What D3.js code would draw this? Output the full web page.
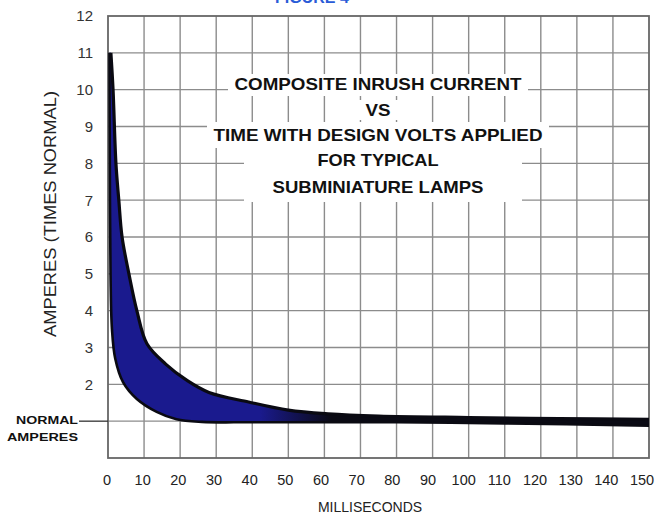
<!DOCTYPE html>
<html><head><meta charset="utf-8">
<script src="https://cdn.jsdelivr.net/npm/d3@7"></script>
<style>
html,body{margin:0;padding:0;background:#fff;}
svg{display:block;font-family:"Liberation Sans",Arial,Helvetica,sans-serif;}
</style></head>
<body>
<svg id="chart" width="660" height="514"></svg>
<script>
// ---- data ----
const xTicks = [0,10,20,30,40,50,60,70,80,90,100,110,120,130,140,150];
const yTicks = [2,3,4,5,6,7,8,9,10,11,12];
const yGrid = [1,2,3,4,5,6,7,8,9,10,11];
// upper (outer) edge of the composite band: [ms, times normal]
const outerEdge = [[0.8,11],[1.4,10],[2.2,8],[3.0,7],[3.9,6],[5.8,5],[8.0,4],[10.8,3.1],[16,2.55],[22,2.1],[28,1.78],[39,1.52],[50,1.3],[61,1.2],[75,1.14],[100,1.1],[125,1.07],[150,1.05]];
// lower (inner) edge of the band
const innerEdge = [[0.4,11],[0.5,8],[0.7,5],[1.1,3.5],[2.0,2.7],[4.2,2.05],[8,1.6],[13.5,1.25],[19,1.05],[26,0.98],[40,0.97],[80,0.97],[110,0.94],[150,0.88]];
const titleLines = ["COMPOSITE INRUSH CURRENT","VS","TIME WITH DESIGN VOLTS APPLIED","FOR TYPICAL","SUBMINIATURE LAMPS"];
const xTitle = "MILLISECONDS";
const yTitle = "AMPERES (TIMES NORMAL)";
const normalLabel = ["NORMAL","AMPERES"];

// ---- layout ----
const svg = d3.select("#chart");
const L = 108, R = 649, T = 16, B = 458;
const x = d3.scaleLinear().domain([0,150]).range([L,R]);
const xLab = d3.scaleLinear().domain([0,150]).range([107,642]); // printed labels drift slightly left
const y = d3.scaleLinear().domain([0,12]).range([B,T]);

// cut-off blue header at top
svg.append("text").attr("x",312).attr("y",3).attr("text-anchor","middle")
  .attr("font-size",16).attr("font-weight","bold").attr("fill","#2a5bd7").text("FIGURE 4");

// grid
const grid = svg.append("g");
grid.selectAll("line.v").data(xTicks.slice(1,-1)).join("line")
  .attr("x1",d=>x(d)).attr("x2",d=>x(d)).attr("y1",T).attr("y2",B)
  .attr("stroke","#8c8c8c").attr("stroke-width",1.4);
grid.selectAll("line.h").data(yGrid).join("line")
  .attr("x1",L).attr("x2",R).attr("y1",d=>y(d)).attr("y2",d=>y(d))
  .attr("stroke","#8c8c8c").attr("stroke-width",1.4);

// white patches behind the title lines
const patches = [[228,74,300,22],[358,100,44,20],[207,122,342,26],[244,148,278,54]];
svg.append("g").selectAll("rect").data(patches).join("rect")
  .attr("x",d=>d[0]).attr("y",d=>d[1]).attr("width",d=>d[2]).attr("height",d=>d[3]).attr("fill","#fff");

// frame
svg.append("rect").attr("x",L).attr("y",T).attr("width",R-L).attr("height",B-T)
  .attr("fill","none").attr("stroke","#666").attr("stroke-width",1.8);

// title
const tg = svg.append("g").attr("font-weight","bold").attr("font-size",16.5).attr("fill","#111").attr("text-anchor","middle");
const tY = [84,110,135,160,187];
const tW = [287,25,329,121,211];
titleLines.forEach((t,i)=>{
  tg.append("text").attr("x",378).attr("y",tY[i]).attr("dy","0.36em")
    .attr("textLength",tW[i]).attr("lengthAdjust","spacingAndGlyphs").text(t);
});

// band
const defs = svg.append("defs");
const grad = defs.append("linearGradient").attr("id","bandGrad").attr("gradientUnits","userSpaceOnUse")
  .attr("x1",x(42)).attr("x2",x(62)).attr("y1",0).attr("y2",0);
grad.append("stop").attr("offset",0).attr("stop-color","#1a1a8e");
grad.append("stop").attr("offset",1).attr("stop-color","#0a0a14");

const line = d3.line().x(d=>x(d[0])).y(d=>y(d[1])).curve(d3.curveCatmullRom.alpha(0.5));
const outerPath = line(outerEdge);
const innerPath = line(innerEdge.slice().reverse()).replace(/^M/,"L");
svg.append("path").attr("d",outerPath+innerPath+"Z").attr("fill","url(#bandGrad)");
svg.append("path").attr("d",line(outerEdge)).attr("fill","none").attr("stroke","#0a0a12").attr("stroke-width",3.2);
svg.append("path").attr("d",line(innerEdge)).attr("fill","none").attr("stroke","#0a0a12").attr("stroke-width",2.6);

// x tick labels
svg.append("g").selectAll("text").data(xTicks).join("text")
  .attr("x",d=>xLab(d)).attr("y",480).attr("dy","0.36em").attr("text-anchor","middle")
  .attr("font-size",14.5).attr("fill","#222").text(d=>d);
// y tick labels
svg.append("g").selectAll("text").data(yTicks).join("text")
  .attr("x",93).attr("y",d=>y(d)).attr("dy","0.36em").attr("text-anchor","end")
  .attr("font-size",15).attr("fill","#333").text(d=>d);

// axis titles
svg.append("text").attr("x",370).attr("y",507).attr("dy","0.36em").attr("text-anchor","middle")
  .attr("font-size",14).attr("fill","#222").text(xTitle);
svg.append("text").attr("transform","translate(50,214) rotate(-90)").attr("dy","0.36em")
  .attr("text-anchor","middle").attr("font-size",16).attr("fill","#222")
  .attr("textLength",246).attr("lengthAdjust","spacingAndGlyphs").text(yTitle);

// NORMAL AMPERES marker
svg.append("line").attr("x1",79).attr("x2",L).attr("y1",y(1)).attr("y2",y(1))
  .attr("stroke","#333").attr("stroke-width",1.3);
svg.append("text").attr("x",78).attr("y",420).attr("dy","0.36em").attr("text-anchor","end")
  .attr("font-size",11).attr("font-weight","bold").attr("fill","#111")
  .attr("textLength",62).attr("lengthAdjust","spacingAndGlyphs").text(normalLabel[0]);
svg.append("text").attr("x",78).attr("y",437).attr("dy","0.36em").attr("text-anchor","end")
  .attr("font-size",11).attr("font-weight","bold").attr("fill","#111")
  .attr("textLength",71).attr("lengthAdjust","spacingAndGlyphs").text(normalLabel[1]);
</script>
</body></html>
